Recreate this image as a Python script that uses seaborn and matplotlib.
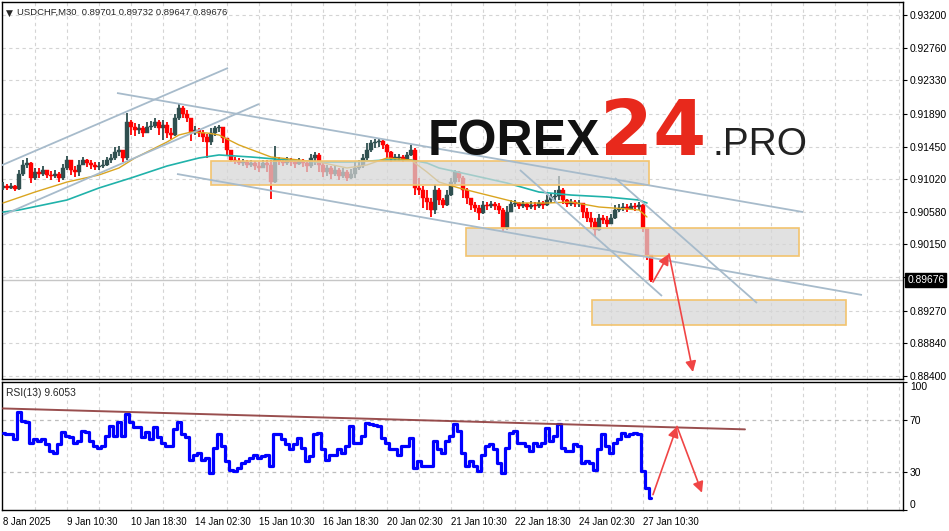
import numpy as np
import pandas as pd
import matplotlib
matplotlib.use("Agg")
import matplotlib.pyplot as plt
import seaborn as sns
from matplotlib.patches import Rectangle

# ---------------- data ----------------
first_open = 0.90900
close = [0.90926, 0.90900, 0.90926, 0.90886, 0.91086, 0.91206, 0.91232, 0.91033, 0.91112, 0.91086,
         0.91139, 0.91073, 0.91059, 0.91086, 0.91033, 0.91166, 0.91272, 0.91139, 0.91112, 0.91206,
         0.91272, 0.91232, 0.91206, 0.91179, 0.91192, 0.91206, 0.91272, 0.91299, 0.91378, 0.91405,
         0.91299, 0.91777, 0.91711, 0.91671, 0.91698, 0.91631, 0.91711, 0.91724, 0.91777, 0.91698,
         0.91738, 0.91631, 0.91605, 0.91831, 0.91964, 0.91884, 0.91831, 0.91631, 0.91671, 0.91631,
         0.91578, 0.91511, 0.91631, 0.91698, 0.91711, 0.91565, 0.91405, 0.91272, 0.91259, 0.91232,
         0.91245, 0.91206, 0.91232, 0.91192, 0.91166, 0.91232, 0.91206, 0.90979, 0.91272, 0.91259,
         0.91232, 0.91272, 0.91245, 0.91219, 0.91259, 0.91232, 0.91192, 0.91299, 0.91339, 0.91206,
         0.91112, 0.91166, 0.91086, 0.91139, 0.91059, 0.91112, 0.91033, 0.91086, 0.91166, 0.91192,
         0.91299, 0.91405, 0.91498, 0.91511, 0.91525, 0.91472, 0.91378, 0.91299, 0.91299, 0.91312,
         0.91285, 0.91339, 0.91405, 0.90900, 0.90873, 0.90767, 0.90713, 0.90607, 0.90873, 0.90740,
         0.90673, 0.90806, 0.90979, 0.91112, 0.91033, 0.90873, 0.90767, 0.90673, 0.90634, 0.90567,
         0.90673, 0.90660, 0.90687, 0.90660, 0.90607, 0.90368, 0.90580, 0.90687, 0.90700, 0.90660,
         0.90687, 0.90647, 0.90673, 0.90660, 0.90700, 0.90673, 0.90740, 0.90780, 0.90793, 0.90873,
         0.90740, 0.90687, 0.90713, 0.90687, 0.90700, 0.90580, 0.90501, 0.90447, 0.90341, 0.90501,
         0.90474, 0.90421, 0.90501, 0.90607, 0.90634, 0.90647, 0.90620, 0.90660, 0.90647, 0.90673,
         0.90368, 0.90009, 0.89676]
high = [0.90979, 0.90953, 0.90966, 0.90940, 0.91139, 0.91272, 0.91299, 0.91245, 0.91166, 0.91166,
        0.91192, 0.91139, 0.91126, 0.91139, 0.91112, 0.91219, 0.91325, 0.91272, 0.91192, 0.91272,
        0.91312, 0.91285, 0.91272, 0.91245, 0.91245, 0.91272, 0.91312, 0.91352, 0.91445, 0.91458,
        0.91405, 0.91897, 0.91804, 0.91764, 0.91751, 0.91724, 0.91777, 0.91791, 0.91831, 0.91804,
        0.91804, 0.91777, 0.91698, 0.91884, 0.92017, 0.91990, 0.91937, 0.91831, 0.91724, 0.91698,
        0.91671, 0.91618, 0.91698, 0.91724, 0.91738, 0.91711, 0.91565, 0.91405, 0.91312, 0.91299,
        0.91285, 0.91272, 0.91272, 0.91259, 0.91245, 0.91272, 0.91272, 0.91272, 0.91458, 0.91312,
        0.91285, 0.91312, 0.91299, 0.91272, 0.91299, 0.91285, 0.91272, 0.91352, 0.91378, 0.91365,
        0.91232, 0.91206, 0.91192, 0.91192, 0.91166, 0.91166, 0.91139, 0.91152, 0.91245, 0.91272,
        0.91352, 0.91498, 0.91538, 0.91551, 0.91551, 0.91538, 0.91485, 0.91392, 0.91352, 0.91352,
        0.91339, 0.91378, 0.91472, 0.91432, 0.91033, 0.90926, 0.90873, 0.90767, 0.90953, 0.90900,
        0.90767, 0.90873, 0.91033, 0.91139, 0.91126, 0.91059, 0.90900, 0.90767, 0.90713, 0.90673,
        0.90727, 0.90713, 0.90727, 0.90713, 0.90700, 0.90634, 0.90660, 0.90740, 0.90740, 0.90713,
        0.90727, 0.90700, 0.90727, 0.90713, 0.90740, 0.90727, 0.90806, 0.90833, 0.90873, 0.91059,
        0.90900, 0.90753, 0.90753, 0.90740, 0.90740, 0.90700, 0.90634, 0.90580, 0.90501, 0.90554,
        0.90541, 0.90527, 0.90554, 0.90673, 0.90687, 0.90700, 0.90687, 0.90700, 0.90700, 0.90713,
        0.90687, 0.90368, 0.90009]
low = [0.90873, 0.90873, 0.90886, 0.90860, 0.90873, 0.91059, 0.91166, 0.90966, 0.91006, 0.91033,
       0.91059, 0.91033, 0.91006, 0.91033, 0.90979, 0.91006, 0.91139, 0.91073, 0.91046, 0.91059,
       0.91206, 0.91179, 0.91152, 0.91139, 0.91139, 0.91166, 0.91192, 0.91232, 0.91272, 0.91325,
       0.91245, 0.91272, 0.91605, 0.91591, 0.91618, 0.91578, 0.91644, 0.91671, 0.91698, 0.91605,
       0.91538, 0.91565, 0.91551, 0.91591, 0.91804, 0.91831, 0.91777, 0.91525, 0.91605, 0.91578,
       0.91511, 0.91299, 0.91472, 0.91591, 0.91644, 0.91498, 0.91325, 0.91245, 0.91219, 0.91206,
       0.91192, 0.91166, 0.91179, 0.91139, 0.91112, 0.91166, 0.91112, 0.90753, 0.90960, 0.91206,
       0.91192, 0.91206, 0.91192, 0.91166, 0.91206, 0.91179, 0.91112, 0.91166, 0.91206, 0.91112,
       0.91046, 0.91059, 0.91019, 0.91059, 0.91006, 0.91033, 0.90993, 0.91019, 0.91033, 0.91139,
       0.91166, 0.91272, 0.91378, 0.91432, 0.91445, 0.91418, 0.91299, 0.91245, 0.91259, 0.91259,
       0.91245, 0.91272, 0.91325, 0.90806, 0.90806, 0.90634, 0.90607, 0.90514, 0.90554, 0.90673,
       0.90634, 0.90660, 0.90793, 0.90953, 0.90979, 0.90767, 0.90687, 0.90607, 0.90580, 0.90474,
       0.90550, 0.90607, 0.90634, 0.90607, 0.90554, 0.90314, 0.90340, 0.90580, 0.90647, 0.90620,
       0.90634, 0.90607, 0.90620, 0.90607, 0.90634, 0.90620, 0.90660, 0.90700, 0.90713, 0.90740,
       0.90687, 0.90647, 0.90660, 0.90647, 0.90647, 0.90501, 0.90447, 0.90368, 0.90248, 0.90330,
       0.90421, 0.90381, 0.90421, 0.90490, 0.90580, 0.90594, 0.90580, 0.90607, 0.90594, 0.90607,
       0.90314, 0.89942, 0.89647]

ma_fast_idx = [0, 8, 16, 24, 29, 33, 37, 41, 44, 47, 51, 54, 59, 67, 74, 79, 86, 91, 96, 102,
               106, 109, 114, 119, 123, 129, 136, 142, 149, 156, 159, 161]
ma_fast = [0.90700, 0.90846, 0.90979, 0.91073, 0.91166, 0.91299, 0.91405, 0.91511, 0.91605, 0.91644,
           0.91631, 0.91605, 0.91472, 0.91312, 0.91272, 0.91245, 0.91166, 0.91206, 0.91299, 0.91272,
           0.91112, 0.90979, 0.90900, 0.90833, 0.90780, 0.90700, 0.90700, 0.90713, 0.90647, 0.90620,
           0.90607, 0.90514]
ma_slow_idx = [0, 4, 16, 24, 32, 41, 49, 54, 62, 71, 79, 87, 96, 102, 106, 109, 117, 126, 134, 142,
               151, 159, 161]
ma_slow = [0.90580, 0.90607, 0.90740, 0.90900, 0.91033, 0.91192, 0.91299, 0.91339, 0.91312, 0.91272,
           0.91245, 0.91245, 0.91272, 0.91272, 0.91232, 0.91166, 0.91073, 0.90966, 0.90846, 0.90806,
           0.90780, 0.90740, 0.90700]

rsi = [60.4, 59.6, 59.0, 55.1, 76.3, 69.5, 68.4, 52.7, 55.1, 53.8,
       55.1, 51.2, 45.9, 44.9, 51.2, 60.6, 57.7, 56.7, 52.7, 53.8,
       61.6, 60.6, 53.8, 49.8, 48.6, 49.8, 57.7, 65.5, 57.7, 68.4,
       57.7, 74.7, 68.4, 64.5, 64.5, 56.7, 60.6, 55.1, 64.5, 56.7,
       52.7, 49.8, 49.8, 62.9, 68.4, 59.0, 56.7, 39.4, 43.3, 44.9,
       39.4, 41.0, 29.0, 48.6, 59.0, 49.8, 38.1, 31.6, 30.2, 32.9,
       36.8, 38.1, 40.7, 43.3, 40.7, 42.0, 43.3, 34.2, 59.0, 59.0,
       55.1, 51.2, 47.3, 51.2, 56.4, 48.6, 38.1, 42.0, 59.0, 60.4,
       47.3, 39.4, 43.3, 43.3, 47.3, 44.7, 49.8, 65.5, 52.5, 52.5,
       57.7, 68.2, 66.9, 66.1, 65.5, 56.4, 52.5, 47.3, 47.3, 43.3,
       49.8, 49.8, 56.4, 32.9, 38.1, 34.2, 34.2, 34.2, 53.8, 47.3,
       44.7, 53.8, 57.7, 66.9, 61.6, 44.7, 34.2, 38.1, 34.2, 30.2,
       43.3, 49.8, 51.2, 47.3, 36.8, 29.0, 48.6, 60.4, 61.6, 52.5,
       52.5, 49.8, 45.9, 52.5, 49.8, 52.5, 64.3, 53.8, 57.7, 66.9,
       48.6, 45.9, 45.9, 51.2, 49.8, 36.8, 38.1, 36.8, 31.6, 47.3,
       59.0, 49.8, 44.7, 52.5, 55.1, 60.4, 57.7, 59.0, 60.4, 59.0,
       30.2, 17.2, 9.6]

date_tick_idx = [0, 16, 32, 48, 64, 80, 96, 112, 128, 144, 160]
date_labels = ["8 Jan 2025", "9 Jan 10:30", "10 Jan 18:30", "14 Jan 02:30", "15 Jan 10:30",
               "16 Jan 18:30", "20 Jan 02:30", "21 Jan 10:30", "22 Jan 18:30", "24 Jan 02:30",
               "27 Jan 10:30"]
price_ticks = [0.93200, 0.92760, 0.92330, 0.91890, 0.91450, 0.91020, 0.90580, 0.90150,
               0.89710, 0.89270, 0.88840, 0.88400]
price_tick_labels = ["0.93200", "0.92760", "0.92330", "0.91890", "0.91450", "0.91020",
                     "0.90580", "0.90150", "", "0.89270", "0.88840", "0.88400"]
rsi_ticks = [100, 70, 30, 0]
last_price = 0.89676
header = "\u25bc USDCHF,M30  0.89701 0.89732 0.89647 0.89676"
rsi_title = "RSI(13) 9.6053"

# analysis drawings (slot, price)
trend_lines = [((-0.75, 0.91192), (56.25, 0.92496)),
               ((0.0, 0.90540), (64.0, 0.92017)),
               ((28.5, 0.92163), (200.0, 0.90580)),
               ((43.5, 0.91086), (214.75, 0.89477)),
               ((129.25, 0.91139), (164.75, 0.89463)),
               ((153.0, 0.91033), (188.5, 0.89370))]
zones = [(52.0, 161.5, 0.91259, 0.90940),
         (115.75, 199.0, 0.90368, 0.89995),
         (147.25, 210.75, 0.89410, 0.89078)]
forecast_path = [(162.5, 0.89649), (166.5, 0.90022), (172.5, 0.88452)]
rsi_trend = ((-0.75, 79.4), (185.5, 63.0))
rsi_forecast = [(162.5, 12.0), (168.5, 65.3), (174.75, 13.5)]

# ---------------- style ----------------
sns.set_theme(style="white")
plt.rcParams['font.family'] = ['Liberation Sans', 'DejaVu Sans']
plt.rcParams['axes.linewidth'] = 1.0

BULL = "#2F4F4F"
BEAR = "#FF0000"
GRID = "#D4D4D4"
TLINE = "#A7BBCB"
ARROW = "#F04545"
FS = 7.4

fig = plt.figure(figsize=(9.49, 5.31), dpi=100)
ax = fig.add_axes([0.0021, 0.28625, 0.9494, 0.70998])
ax2 = fig.add_axes([0.0021, 0.03955, 0.9494, 0.24105])

n = len(close)
xs = np.arange(n)
opens = [first_open] + close[:-1]
df = pd.DataFrame({"x": xs, "open": opens, "high": high, "low": low, "close": close, "rsi": rsi})
df["hi"] = df[["high", "open", "close"]].max(axis=1)
df["lo"] = df[["low", "open", "close"]].min(axis=1)

XMIN, XMAX = -0.25, 225.0
YMIN, YMAX = 0.883593, 0.933734

# grid
for gx in np.arange(8, 225, 8):
    ax.axvline(gx, color=GRID, lw=0.8, ls=(0, (3, 3)), zorder=0)
    ax2.axvline(gx, color=GRID, lw=0.8, ls=(0, (3, 3)), zorder=0)
for gy in price_ticks:
    ax.axhline(gy, color=GRID, lw=0.8, ls=(0, (3, 3)), zorder=0)
for gy in (70, 30):
    ax2.axhline(gy, color="#BDBDBD", lw=0.9, ls=(0, (3, 3)), zorder=0)

# candles
up = df["close"] >= df["open"]
for mask, col in ((up, BULL), (~up, BEAR)):
    d = df[mask]
    ax.vlines(d["x"], d["lo"], d["hi"], color=col, lw=1.3, zorder=3)
    h = (d["close"] - d["open"]).abs().clip(lower=0.00008)
    b = d[["open", "close"]].min(axis=1)
    ax.bar(d["x"], h, bottom=b, width=0.85, color=col, edgecolor=col, lw=0.3, zorder=3)

# moving averages
sns.lineplot(x=ma_slow_idx, y=ma_slow, ax=ax, color="#20B2AA", lw=1.2, zorder=4)
sns.lineplot(x=ma_fast_idx, y=ma_fast, ax=ax, color="#DAA520", lw=1.0, zorder=4)

# current price line
ax.axhline(last_price, color="#C6C6C6", lw=1.0, zorder=1)

# zones
for x0, x1, ytop, ybot in zones:
    ax.add_patch(Rectangle((x0, ybot), x1 - x0, ytop - ybot,
                           facecolor=(0.84, 0.84, 0.84, 0.72), edgecolor="#F2C46E",
                           lw=1.2, zorder=5))

# trend lines
for (x0, y0), (x1, y1) in trend_lines:
    ax.plot([x0, x1], [y0, y1], color=TLINE, lw=1.3, zorder=6, solid_capstyle="butt")

# forecast arrows
ap = dict(arrowstyle="-|>", color=ARROW, lw=1.2, mutation_scale=16, shrinkA=0, shrinkB=0)
for (xa, ya), (xb, yb) in zip(forecast_path[:-1], forecast_path[1:]):
    ax.annotate("", xy=(xb, yb), xytext=(xa, ya), arrowprops=ap, zorder=7)

ax.set_xlim(XMIN, XMAX)
ax.set_ylim(YMIN, YMAX)
ax.yaxis.tick_right()
ax.set_yticks(price_ticks)
ax.set_yticklabels(price_tick_labels)
ax.tick_params(axis="y", length=3, width=0.8, pad=2, labelsize=FS, colors="black", direction="out")
ax.set_xticks([])
ax.set_xlabel("")
ax.set_ylabel("")
for s in ax.spines.values():
    s.set_color("black")
    s.set_linewidth(1.0)

ax.text(0.004, 0.983, "\u25bc", transform=ax.transAxes, fontsize=6.5, va="top", ha="left",
        family=["DejaVu Sans"], zorder=10)
ax.text(0.0165, 0.985, header[2:], transform=ax.transAxes, fontsize=6.8, va="top", ha="left", zorder=10)

# current price tag
ax.annotate("0.89676", xy=(1.0, last_price), xycoords=("axes fraction", "data"),
            xytext=(3, 0), textcoords="offset points", fontsize=FS, color="white",
            va="center", ha="left", annotation_clip=False,
            bbox=dict(boxstyle="square,pad=0.2", facecolor="black", edgecolor="black"))

# logo
fig.text(428 / 949, 1 - 155 / 531, "FOREX", fontsize=36, fontweight="bold",
         family=["Liberation Sans", "DejaVu Sans"], color="#111111", ha="left", va="baseline", zorder=20)
fig.text(600 / 949, 1 - 155 / 531, "24", fontsize=55, fontweight="bold",
         family=["DejaVu Sans"], color="#E8291C", ha="left", va="baseline", zorder=20)
fig.text(713 / 949, 1 - 155 / 531, ".PRO", fontsize=28, fontweight="normal",
         family=["Liberation Sans", "DejaVu Sans"], color="#222222", ha="left", va="baseline", zorder=20)

# ---------------- RSI ----------------
sns.lineplot(data=df, x="x", y="rsi", ax=ax2, color="#0000FF", lw=2.3, zorder=3,
             drawstyle="steps-mid")
ax2.plot([rsi_trend[0][0], rsi_trend[1][0]], [rsi_trend[0][1], rsi_trend[1][1]],
         color="#8E3B3B", lw=1.4, alpha=0.9, zorder=4)
for (xa, ya), (xb, yb) in zip(rsi_forecast[:-1], rsi_forecast[1:]):
    ax2.annotate("", xy=(xb, yb), xytext=(xa, ya), arrowprops=ap, zorder=7)

ax2.set_xlim(XMIN, XMAX)
ax2.set_ylim(0, 100)
ax2.yaxis.tick_right()
ax2.set_yticks(rsi_ticks)
ax2.set_yticklabels([str(t) for t in rsi_ticks])
ax2.tick_params(axis="y", length=3, width=0.8, pad=2, labelsize=FS, colors="black", direction="out")
for lab, t in zip(ax2.get_yticklabels(), rsi_ticks):
    if t == 100:
        lab.set_va("top")
    elif t == 0:
        lab.set_va("bottom")
ax2.set_xticks(date_tick_idx)
ax2.set_xticklabels(date_labels, ha="left")
ax2.tick_params(axis="x", length=3, width=0.8, pad=2, labelsize=6.9, colors="black", direction="out")
ax2.set_xlabel("")
ax2.set_ylabel("")
for s in ax2.spines.values():
    s.set_color("black")
    s.set_linewidth(1.0)
ax2.text(0.005, 0.95, rsi_title, transform=ax2.transAxes, fontsize=FS, va="top", ha="left")

fig.savefig("out.png", dpi=100)
